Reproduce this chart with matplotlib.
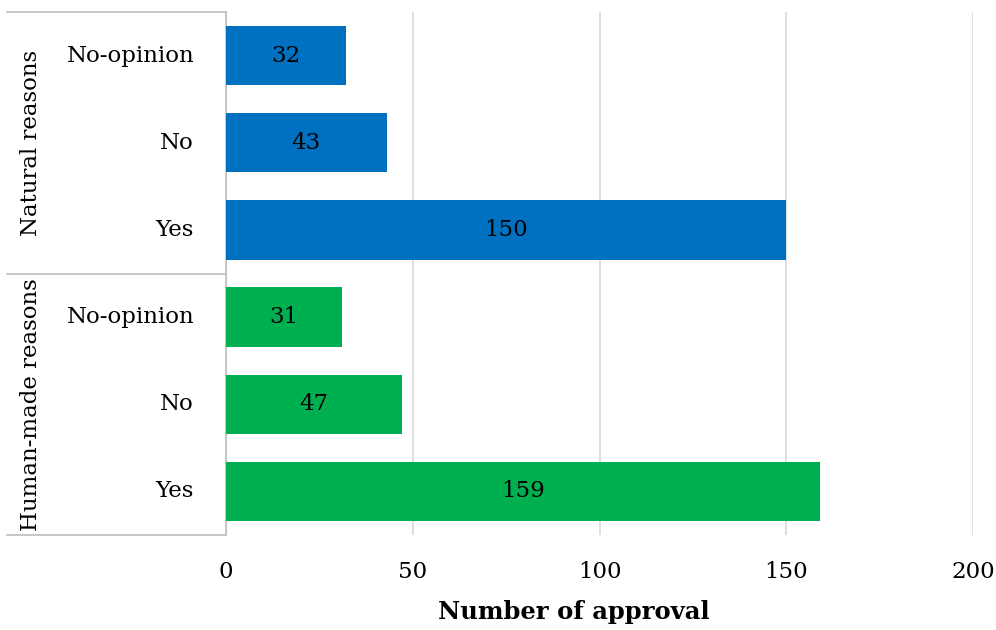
import matplotlib.pyplot as plt
import matplotlib.transforms as mtransforms

# Data
groups = ["Natural reasons", "Human-made reasons"]
answers = ["No-opinion", "No", "Yes"]
natural_values = [32, 43, 150]
human_values = [31, 47, 159]
group_colors = ["#0070C0", "#00B050"]
x_ticks = [0, 50, 100, 150, 200]

plt.rcParams['font.family'] = ['DejaVu Serif']

FS = 16.5

fig = plt.figure(figsize=(9.96, 6.30), dpi=100)
ax = fig.add_axes([226/996, 1 - 535/630, (973-226)/996, (535-12)/630])

# Build rows top to bottom
rows = []
for g, vals, col in zip(groups, [natural_values, human_values], group_colors):
    for a, v in zip(answers, vals):
        rows.append((g, a, v, col))

n = len(rows)
ypos = [n - 1 - i for i in range(n)]
vals = [r[2] for r in rows]
cols = [r[3] for r in rows]
bars = ax.barh(ypos, vals, height=0.68, color=cols, zorder=3)
for b, v in zip(bars, vals):
    ax.text(v / 2, b.get_y() + b.get_height() / 2, str(v), ha='center', va='center',
            fontsize=FS, color='black', zorder=4)

ax.set_ylim(-0.5, n - 0.5)
ax.set_xlim(0, 200)
ax.set_xticks(x_ticks)
ax.set_xticklabels([str(t) for t in x_ticks], fontsize=FS)
ax.tick_params(axis='x', length=0, pad=19)
ax.set_yticks([])
for s in ['top', 'right', 'bottom']:
    ax.spines[s].set_visible(False)
ax.spines['left'].set_color('#BFBFBF')
ax.spines['left'].set_linewidth(1.2)
ax.grid(axis='x', color='#D9D9D9', linewidth=1.2, zorder=0)
ax.set_xlabel("Number of approval", fontsize=17.5, fontweight='bold')
ax.xaxis.set_label_coords((574 - 226) / 747, (535 - 612) / 523)
ax.xaxis.label.set_va('center')

# Category labels and group boxes
trans = mtransforms.blended_transform_factory(ax.transAxes, ax.transData)
x_left = (7 - 226) / 747
for y, r in zip(ypos, rows):
    ax.text(-32 / 747, y, r[1], transform=trans, ha='right', va='center', fontsize=FS)

per = len(answers)
for gi, g in enumerate(groups):
    top = n - 0.5 - gi * per
    bot = top - per
    ax.text((31 - 226) / 747, (top + bot) / 2, g, transform=trans, rotation=90,
            ha='center', va='center', fontsize=FS)
for edge in [n - 0.5, n - 0.5 - per, -0.5]:
    ax.plot([x_left, 0], [edge, edge], transform=trans, color='#BFBFBF',
            linewidth=1.2, clip_on=False)

fig.savefig("out.png", dpi=100)
